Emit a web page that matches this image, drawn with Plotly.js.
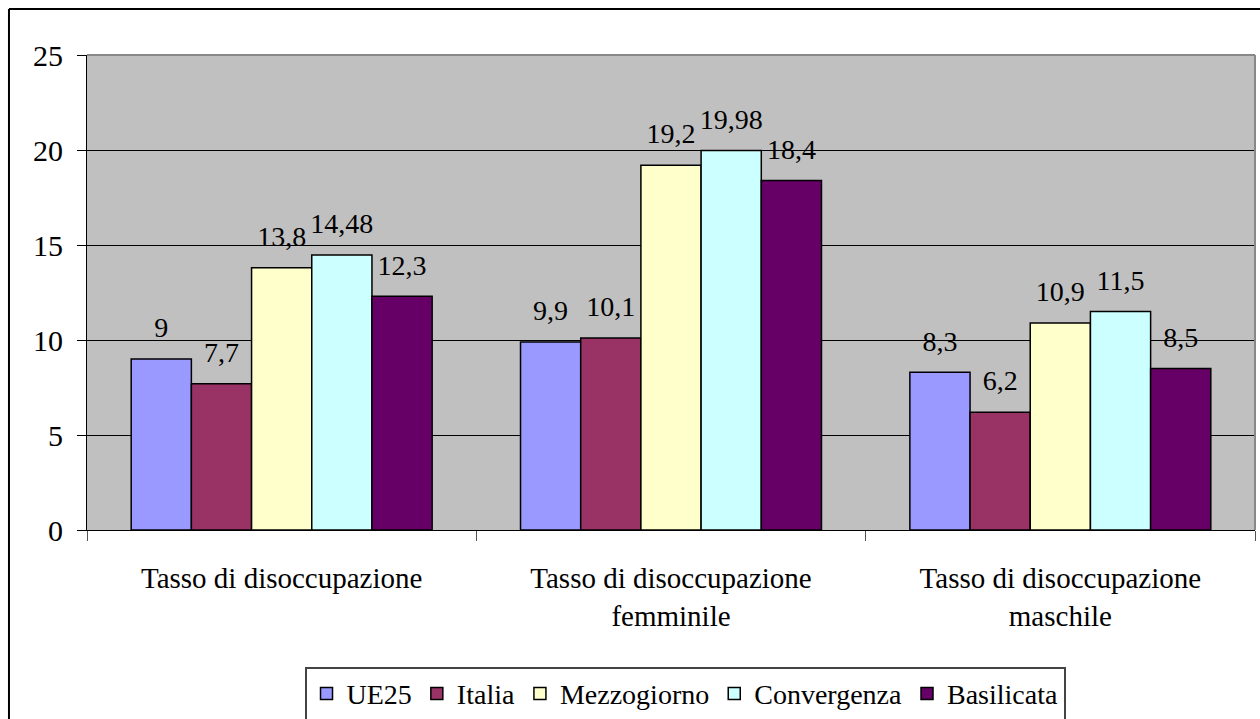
<!DOCTYPE html>
<html>
<head>
<meta charset="utf-8">
<script src="https://cdn.plot.ly/plotly-3.0.1.min.js"></script>
<style>
  html, body { margin: 0; padding: 0; background: #fff; }
  #chart { width: 1260px; height: 719px; }
</style>
</head>
<body>
<div id="chart"></div>
<script>
const categories = ["Tasso di disoccupazione", "Tasso di disoccupazione<br>femminile", "Tasso di disoccupazione<br>maschile"];
const seriesNames = ["UE25", "Italia", "Mezzogiorno", "Convergenza", "Basilicata"];
const ue25 = [9, 9.9, 8.3];
const italia = [7.7, 10.1, 6.2];
const mezzogiorno = [13.8, 19.2, 10.9];
const convergenza = [14.48, 19.98, 11.5];
const basilicata = [12.3, 18.4, 8.5];
const seriesValues = [ue25, italia, mezzogiorno, convergenza, basilicata];
const colors = ["#9999FF", "#993366", "#FFFFCC", "#CCFFFF", "#660066"];
const yTicks = [0, 5, 10, 15, 20, 25];

const FONT = "Liberation Serif";
const fmt = v => String(v).replace('.', ',');

const traces = [];
seriesValues.forEach((vals, i) => {
  traces.push({
    type: 'bar', name: seriesNames[i], x: categories, y: vals,
    marker: { color: colors[i], line: { color: '#000', width: 1.5 } },
    hoverinfo: 'skip'
  });
});
seriesValues.forEach((vals, i) => {
  traces.push({
    type: 'scatter', mode: 'markers+text', x: categories, y: vals,
    text: vals.map(fmt), textposition: 'top center',
    textfont: { family: FONT, size: 28, color: '#000' },
    marker: { size: 22, opacity: 0 },
    showlegend: false, hoverinfo: 'skip', cliponaxis: false
  });
});

const layout = {
  width: 1260, height: 719,
  margin: { l: 87, r: 5, t: 55, b: 189, autoexpand: false },
  paper_bgcolor: '#fff', plot_bgcolor: '#C0C0C0',
  barmode: 'group', bargap: 0.227, bargroupgap: 0,
  scattermode: 'group', scattergap: 0.227,
  font: { family: FONT, color: '#000', size: 28 },
  showlegend: true,
  legend: {
    orientation: 'h', x: 0.512, xanchor: 'center', y: -0.288, yanchor: 'top',
    bordercolor: '#444', borderwidth: 2, bgcolor: '#fff',
    font: { family: FONT, size: 28, color: '#000' },
    traceorder: 'normal'
  },
  xaxis: {
    type: 'category', tickson: 'boundaries', ticks: 'outside', ticklen: 10,
    tickcolor: '#555', showline: true, linecolor: '#000', linewidth: 1,
    showgrid: false, zeroline: false,
    tickfont: { family: FONT, size: 29, color: '#000' },
    ticklabelstandoff: 22, fixedrange: true
  },
  yaxis: {
    range: [0, 25], tickvals: yTicks, ticktext: yTicks.map(String),
    ticks: 'outside', ticklen: 9, tickcolor: '#000',
    showline: true, linecolor: '#000', linewidth: 1,
    showgrid: true, gridcolor: '#000', gridwidth: 1, zeroline: false,
    tickfont: { family: FONT, size: 30, color: '#000' },
    ticklabelstandoff: 8, fixedrange: true
  },
  shapes: [
    { type: 'line', xref: 'paper', yref: 'paper', x0: 0, x1: 1, y0: 1, y1: 1, line: { color: '#888', width: 2 }, layer: 'above' },
    { type: 'line', xref: 'paper', yref: 'paper', x0: 1, x1: 1, y0: 0, y1: 1, line: { color: '#888', width: 2 }, layer: 'above' },
    { type: 'line', xref: 'paper', yref: 'paper', x0: -0.0668, x1: 1.01, y0: 1.0968, y1: 1.0968, line: { color: '#000', width: 2 } },
    { type: 'line', xref: 'paper', yref: 'paper', x0: -0.0668, x1: -0.0668, y0: -0.5, y1: 1.0968, line: { color: '#000', width: 2 } }
  ]
};

Plotly.newPlot('chart', traces, layout, { displayModeBar: false, staticPlot: true });
</script>
</body>
</html>
